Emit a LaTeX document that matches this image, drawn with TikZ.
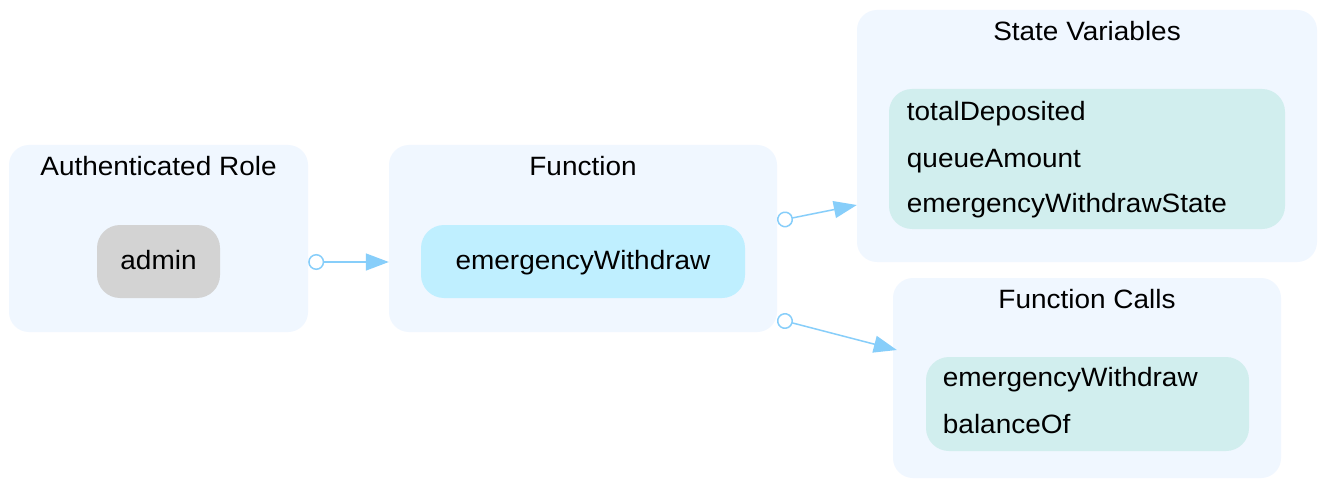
\documentclass[tikz,border=0pt]{standalone}
\usepackage{fontspec}
\setmainfont[FakeStretch=1.055]{Liberation Sans}
\usetikzlibrary{arrows.meta}
\definecolor{clusterfill}{HTML}{F0F7FF}
\definecolor{adminfill}{HTML}{D3D3D3}
\definecolor{fnfill}{HTML}{BFEFFF}
\definecolor{itemfill}{HTML}{D1EEEE}
\definecolor{edgec}{HTML}{87CEFA}
\tikzset{
  cluster/.style={rectangle, rounded corners=20pt, fill=clusterfill, draw=none, inner sep=0pt},
  inner/.style={rectangle, rounded corners=23pt, draw=none, inner sep=0pt},
  label/.style={anchor=base, inner sep=0pt, font=\fontsize{26.5}{30}\selectfont},
  itemtext/.style={anchor=base west, inner sep=0pt, font=\fontsize{26.5}{30}\selectfont},
  flow/.style={draw=edgec, line width=1.5pt,
    arrows={Circle[open,length=16pt,width=16pt,fill=white]-Triangle[length=23pt,width=17pt]}}
}
\begin{document}
\begin{tikzpicture}[x=1pt,y=-1pt]
\useasboundingbox[fill=white] (0,0) rectangle (1319,481);
% clusters
\node[cluster, minimum width=299pt, minimum height=187pt] (c1) at (158.5,238.5) {};
\node[cluster, minimum width=388pt, minimum height=187pt] (c2) at (583,238.5) {};
\node[cluster, minimum width=460pt, minimum height=252pt] (c3) at (1087,136) {};
\node[cluster, minimum width=388pt, minimum height=200pt] (c4) at (1087,378) {};
% titles
\node[label] (t1) at (158.5,175.7) {Authenticated Role};
\node[label] (t2) at (583,175.7) {Function};
\node[label] (t3) at (1087,40.5) {State Variables};
\node[label] (t4) at (1087,308.5) {Function Calls};
% inner nodes
\node[inner, fill=adminfill, minimum width=123pt, minimum height=73pt] (admin) at (158.5,261.5) {};
\node[label] (admintext) at (158.5,269.5) {admin};
\node[inner, fill=fnfill, minimum width=324pt, minimum height=73pt] (fn) at (583,261.5) {};
\node[label] (fntext) at (583,269.5) {emergencyWithdraw};
\node[inner, fill=itemfill, minimum width=396pt, minimum height=140pt] (sv) at (1087,159) {};
\node[itemtext] (sv1) at (906.7,120.7) {totalDeposited};
\node[itemtext] (sv2) at (906.7,167.3) {queueAmount};
\node[itemtext] (sv3) at (906.7,212.7) {emergencyWithdrawState};
\node[inner, fill=itemfill, minimum width=323pt, minimum height=94pt] (fc) at (1087.5,404) {};
\node[itemtext] (fc1) at (942.7,386.7) {emergencyWithdraw};
\node[itemtext] (fc2) at (942.7,433.3) {balanceOf};
% edges
\draw[flow] ([yshift=-23.5pt]c1.east) -- ([yshift=-23.5pt]c2.west);
\draw[flow] ([yshift=17.5pt]c2.east) -- ([yshift=-69pt]c3.west);
\draw[flow] ([yshift=-80.5pt]c2.east) -- ([xshift=4pt,yshift=28pt]c4.west);
\end{tikzpicture}
\end{document}
